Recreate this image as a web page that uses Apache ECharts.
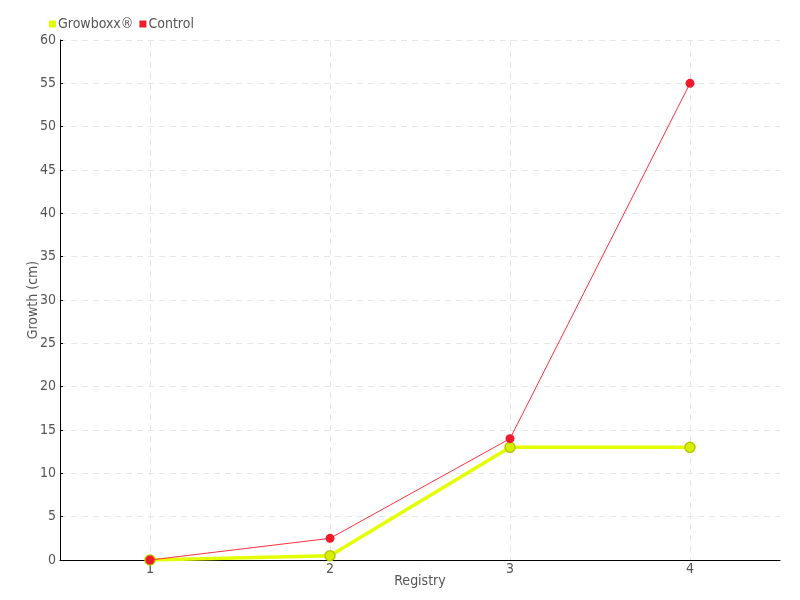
<!DOCTYPE html>
<html><head><meta charset="utf-8">
<script src="https://cdn.jsdelivr.net/npm/echarts@6/dist/echarts.min.js"></script>
<style>html,body{margin:0;padding:0;background:#fff}#c{width:800px;height:600px}</style>
</head><body><div id="c"></div>
<script>
const categories = ['1', '2', '3', '4'];
const growboxx = [0, 0.5, 13, 13];
const control = [0, 2.5, 14, 55];
const yTicks = [0, 5, 10, 15, 20, 25, 30, 35, 40, 45, 50, 55, 60];

const FONT = "'DejaVu Sans Condensed', 'Liberation Sans Narrow', 'Roboto', sans-serif";
const chart = echarts.init(document.getElementById('c'));
chart.setOption({
  animation: false,
  textStyle: {fontFamily: FONT},
  legend: {
    left: 44, top: 12, itemWidth: 7, itemHeight: 7, itemGap: 6, icon: 'rect',
    textStyle: {color: '#555', fontSize: 14, fontFamily: FONT, padding: [0, 0, 0, -3]},
    data: [{name: 'Growboxx®', itemStyle: {color: '#e3ff00', borderWidth: 0}},
           {name: 'Control', itemStyle: {color: '#ee1c2a', borderWidth: 0}}]
  },
  grid: {left: 60, right: 20, top: 40, bottom: 40},
  xAxis: {
    type: 'category', data: categories, boundaryGap: true,
    name: 'Registry', nameLocation: 'middle', nameGap: 14, nameMoveOverlap: false,
    nameTextStyle: {color: '#555', fontSize: 14, fontFamily: FONT},
    axisLine: {lineStyle: {color: '#000', width: 1}},
    axisTick: {alignWithLabel: true, length: 5, lineStyle: {color: '#555'}},
    axisLabel: {color: '#555', fontSize: 14, margin: 2, fontFamily: FONT},
    splitLine: {show: true, alignWithLabel: true, lineStyle: {color: '#e6e6e6', type: [6, 5]}}
  },
  yAxis: {
    type: 'value', min: yTicks[0], max: yTicks[yTicks.length - 1], interval: 5,
    name: 'Growth (cm)', nameLocation: 'middle', nameGap: 20, nameMoveOverlap: false,
    nameTextStyle: {color: '#555', fontSize: 14, fontFamily: FONT},
    axisLine: {show: true, lineStyle: {color: '#000', width: 1}},
    axisTick: {show: true, inside: true, length: 3, lineStyle: {color: '#000'}},
    axisLabel: {color: '#555', fontSize: 14, margin: 4, fontFamily: FONT},
    splitLine: {show: true, lineStyle: {color: '#e6e6e6', type: [6, 5]}}
  },
  series: [
    {
      name: 'Growboxx®', type: 'line', data: growboxx,
      symbol: 'circle', symbolSize: 10, z: 2,
      lineStyle: {color: '#e3ff00', width: 3.5},
      itemStyle: {color: '#d6f000', borderColor: '#b8c800', borderWidth: 1.5}
    },
    {
      name: 'Control', type: 'line', data: control,
      symbol: 'circle', symbolSize: 9, z: 3,
      lineStyle: {color: '#ff3040', width: 1},
      itemStyle: {color: '#ee1c2a', borderWidth: 0}
    }
  ]
});
</script></body></html>
